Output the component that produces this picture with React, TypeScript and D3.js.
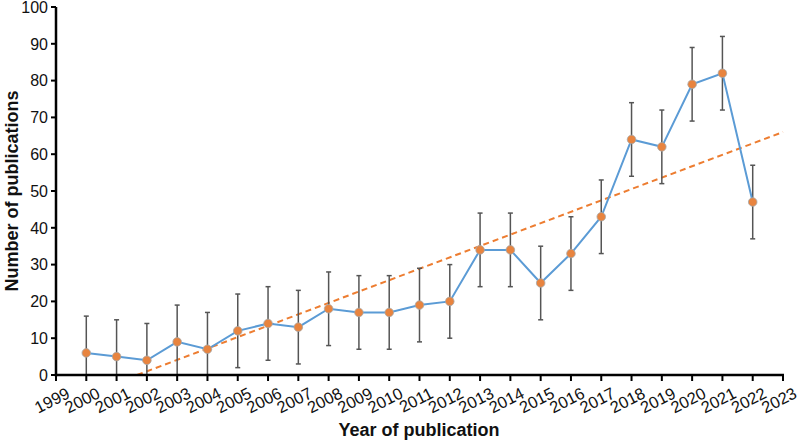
import * as d3 from "d3";

const years = [2000, 2001, 2002, 2003, 2004, 2005, 2006, 2007, 2008, 2009, 2010, 2011,
  2012, 2013, 2014, 2015, 2016, 2017, 2018, 2019, 2020, 2021, 2022];
const counts = [6, 5, 4, 9, 7, 12, 14, 13, 18, 17, 17, 19, 20, 34, 34, 25, 33, 43, 64, 62, 79, 82, 47];
const errorSize = 10;
const xTicks = d3.range(1999, 2024);
const yTicks = [0, 10, 20, 30, 40, 50, 60, 70, 80, 90, 100];

const W = 800;
const H = 442;
const MARGIN = { top: 7, right: 17, bottom: 67, left: 56 };
const FONT = "Liberation Sans, Arial, sans-serif";

export default function App() {
  const w = W - MARGIN.left - MARGIN.right;
  const h = H - MARGIN.top - MARGIN.bottom;

  const x = d3.scaleLinear().domain([1999, 2023]).range([0, w]);
  const y = d3.scaleLinear().domain([0, 100]).range([h, 0]);

  const points = years.map((yr, i) => ({ year: yr, value: counts[i] }));

  // least-squares trend line
  const mx = d3.mean(years)!;
  const my = d3.mean(counts)!;
  const slope =
    d3.sum(points, (p) => (p.year - mx) * (p.value - my)) /
    d3.sum(points, (p) => (p.year - mx) ** 2);
  const trendAt = (yr: number) => my + slope * (yr - mx);
  const trendStart = Math.max(1999, mx - my / slope);
  const trendEnd = 2023;

  const line = d3
    .line<{ year: number; value: number }>()
    .x((d) => x(d.year))
    .y((d) => y(d.value));

  return (
    <svg width={W} height={H} style={{ position: "absolute", left: 0, top: 0, background: "#fff" }}>
      <g transform={`translate(${MARGIN.left},${MARGIN.top})`}>
        {/* trend */}
        <line
          x1={x(trendStart)}
          y1={y(trendAt(trendStart))}
          x2={x(trendEnd)}
          y2={y(trendAt(trendEnd))}
          stroke="#ed7d31"
          strokeWidth={2}
          strokeDasharray="6,4"
        />

        {/* error bars */}
        {points.map((p) => {
          const top = y(p.value + errorSize);
          const bot = y(Math.max(0, p.value - errorSize));
          const cx = x(p.year);
          return (
            <g key={p.year} stroke="#555" strokeWidth={1.5}>
              <line x1={cx} x2={cx} y1={top} y2={bot} />
              <line x1={cx - 2.5} x2={cx + 2.5} y1={top} y2={top} />
              {p.value - errorSize > 0 && <line x1={cx - 2.5} x2={cx + 2.5} y1={bot} y2={bot} />}
            </g>
          );
        })}

        <path d={line(points) ?? ""} fill="none" stroke="#5b9bd5" strokeWidth={2} />

        {points.map((p) => (
          <circle
            key={p.year}
            cx={x(p.year)}
            cy={y(p.value)}
            r={4.3}
            fill="#e8843f"
            stroke="#a8a8a8"
            strokeWidth={0.8}
          />
        ))}

        {/* y axis */}
        <line x1={0} x2={0} y1={0} y2={h + 1.2} stroke="#000" strokeWidth={2.5} />
        {yTicks.map((t) => (
          <g key={t} transform={`translate(0,${y(t)})`}>
            <line x1={-5} x2={0} stroke="#000" strokeWidth={2} />
            <text x={-8} dy="0.36em" textAnchor="end" fontSize={16} fontFamily={FONT} fill="#111">
              {t}
            </text>
          </g>
        ))}

        {/* x axis */}
        <line x1={-1.2} x2={w + 1} y1={h} y2={h} stroke="#000" strokeWidth={2.5} />
        {xTicks.map((t) => (
          <g key={t} transform={`translate(${x(t)},${h})`}>
            <line y1={0} y2={6} stroke="#000" strokeWidth={2} />
            <text
              transform="translate(15,22) rotate(-27)"
              textAnchor="end"
              fontSize={16.5}
              fontFamily={FONT}
              fill="#111"
            >
              {t}
            </text>
          </g>
        ))}
      </g>

      <text
        x={419}
        y={436}
        textAnchor="middle"
        fontSize={18}
        fontWeight="bold"
        fontFamily={FONT}
        fill="#111"
      >
        Year of publication
      </text>
      <text
        transform={`translate(18,${MARGIN.top + h / 2}) rotate(-90)`}
        textAnchor="middle"
        fontSize={18}
        fontWeight="bold"
        fontFamily={FONT}
        fill="#111"
      >
        Number of publications
      </text>
    </svg>
  );
}
